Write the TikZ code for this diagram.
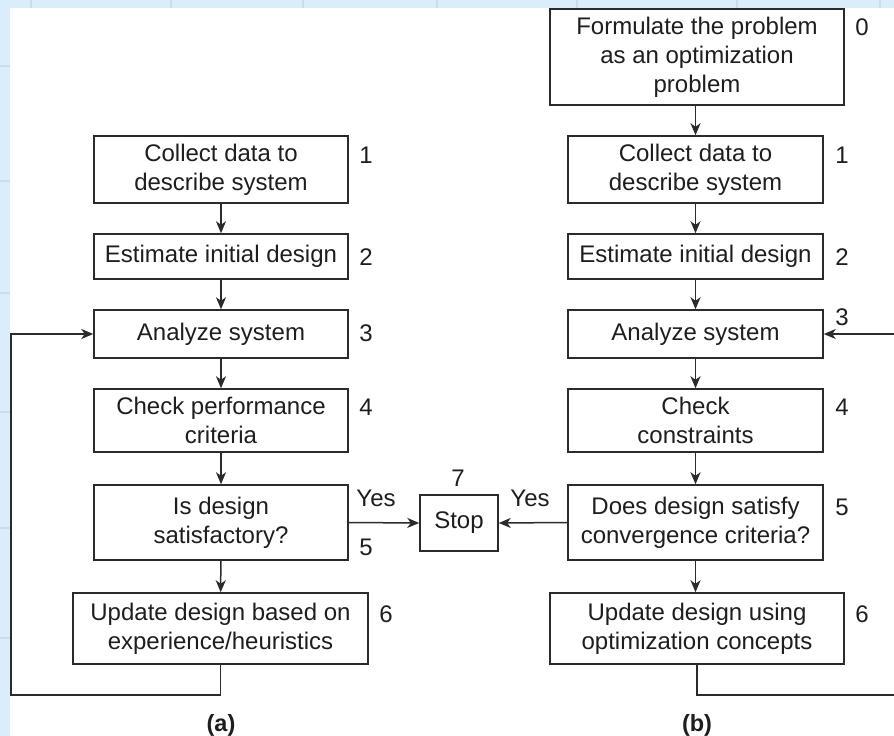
\documentclass[tikz,border=0pt]{standalone}
\usepackage{fontspec}
\setmainfont{Liberation Sans}
\usetikzlibrary{arrows.meta}
\definecolor{bgblue}{HTML}{DAEDFA}
\definecolor{gridblue}{HTML}{C9DDEC}
\definecolor{ink}{HTML}{2B2B2B}
\definecolor{txt}{HTML}{1E1E1E}
\tikzset{
  box/.style={draw=ink, line width=1.5pt, rectangle, align=center, inner sep=0pt,
    font=\fontsize{24}{29}\selectfont, text=txt},
  num/.style={inner sep=0pt, font=\fontsize{24}{29}\selectfont, text=txt},
  figcaption/.style={inner sep=0pt, font=\fontsize{23.5}{29}\selectfont\bfseries, text=txt},
  conn/.style={draw=ink, line width=1.5pt},
  arr/.style={conn, -{Stealth[length=12pt, width=10pt, inset=3.5pt]}},
}
\begin{document}
\begin{tikzpicture}[x=1pt, y=-1pt]
\useasboundingbox (0,0) rectangle (894,736);
\clip (0,0) rectangle (894,736);
% background
\fill[bgblue] (0,0) rectangle (894,736);
\foreach \gx in {31,171,303,437,577,737,880} \draw[gridblue, line width=2pt] (\gx,0) -- (\gx,8);
\foreach \gy in {66,181,293,412,528,638} \draw[gridblue, line width=2pt] (0,\gy) -- (10,\gy);
\fill[white] (10,8) rectangle (894,736);

% column (a)
\node[box, minimum width=254pt, minimum height=67pt] (a1) at (221,169.5) {Collect data to\\describe system};
\node[box, minimum width=254pt, minimum height=45pt] (a2) at (221,256.5) {Estimate initial design};
\node[box, minimum width=254pt, minimum height=48pt] (a3) at (221,334) {Analyze system};
\node[box, minimum width=254pt, minimum height=63pt] (a4) at (221,420.5) {Check performance\\criteria};
\node[box, minimum width=254pt, minimum height=75pt] (a5) at (221,522.5) {Is design\\satisfactory?};
\node[box, minimum width=295pt, minimum height=71pt] (a6) at (220.5,628.5) {Update design based on\\experience/heuristics};

\node[num] (na1) at (366,155) {1};
\node[num] (na2) at (366,257) {2};
\node[num] (na3) at (366,333) {3};
\node[num] (na4) at (366,407) {4};
\node[num] (na5) at (366,547) {5};
\node[num] (na6) at (386,614) {6};
\node[num] (ya) at (376,498) {Yes};

% stop
\node[box, minimum width=78pt, minimum height=56pt] (stop) at (459,523) {Stop};
\node[num] (n7) at (458,478) {7};

% column (b)
\node[box, minimum width=294pt, minimum height=96pt] (b0) at (697,57) {Formulate the problem\\as an optimization\\problem};
\node[box, minimum width=255pt, minimum height=67pt] (b1) at (695.5,169.5) {Collect data to\\describe system};
\node[box, minimum width=255pt, minimum height=45pt] (b2) at (695.5,256.5) {Estimate initial design};
\node[box, minimum width=255pt, minimum height=48pt] (b3) at (695.5,334) {Analyze system};
\node[box, minimum width=255pt, minimum height=63pt] (b4) at (695.5,420.5) {Check\\constraints};
\node[box, minimum width=255pt, minimum height=75pt] (b5) at (695.5,522.5) {Does design satisfy\\convergence criteria?};
\node[box, minimum width=294pt, minimum height=71pt] (b6) at (697,628.5) {Update design using\\optimization concepts};

\node[num] (nb0) at (862,27) {0};
\node[num] (nb1) at (842,155) {1};
\node[num] (nb2) at (842,257) {2};
\node[num] (nb3) at (842,317) {3};
\node[num] (nb4) at (842,407) {4};
\node[num] (nb5) at (842,507) {5};
\node[num] (nb6) at (862,614) {6};
\node[num] (yb) at (530,498) {Yes};

\node[figcaption] (capa) at (221,725) {(a)};
\node[figcaption] (capb) at (697,725) {(b)};

% connectors (a)
\draw[arr] (a1) -- (a2);
\draw[arr] (a2) -- (a3);
\draw[arr] (a3) -- (a4);
\draw[arr] (a4) -- (a5);
\draw[arr] (a5) -- (a6);
\draw[arr] (a5.east) -- (stop.west);
\coordinate (la) at (11,695);
\draw[arr] (a6.south) |- (la) |- (a3.west);

% connectors (b)
\draw[arr] (b0.south -| b1.north) -- (b1);
\draw[arr] (b1) -- (b2);
\draw[arr] (b2) -- (b3);
\draw[arr] (b3) -- (b4);
\draw[arr] (b4) -- (b5);
\draw[arr] (b5) -- (b6.north -| b5.south);
\draw[arr] (b5.west) -- (stop.east);
\coordinate (rb) at (900,695);
\draw[arr] (b6.south) |- (rb) |- (b3.east);
\end{tikzpicture}
\end{document}
